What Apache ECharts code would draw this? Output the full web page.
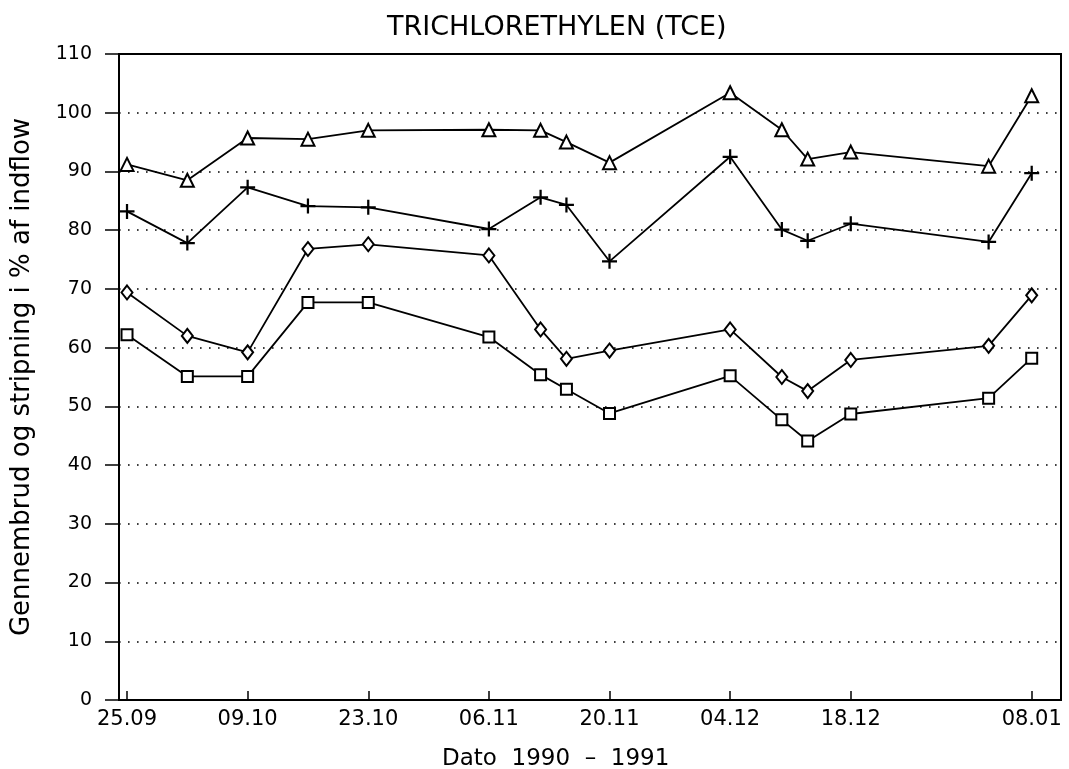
<!DOCTYPE html>
<html>
<head>
<meta charset="utf-8">
<title>TRICHLORETHYLEN (TCE)</title>
<script src="https://cdn.jsdelivr.net/npm/echarts@6/dist/echarts.min.js"></script>
<style>
  html, body { margin: 0; padding: 0; background: #fff; }
  #chart { width: 1069px; height: 769px; }
</style>
</head>
<body>
<div id="chart"></div>
<script>
// Sampling days, counted from 25.09.1990
const days = [0, 7, 14, 21, 28, 42, 48, 51, 56, 70, 76, 79, 84, 100, 105];

// Date ticks on the x axis
const tickDays = [0, 14, 28, 42, 56, 70, 84, 105];
const tickLabels = ['25.09', '09.10', '23.10', '06.11', '20.11', '04.12', '18.12', '08.01'];

// Breakthrough and stripping, % of inflow
const triangleSeries = [91.2, 88.5, 95.7, 95.5, 97.0, 97.1, 97.0, 95.0, 91.5, 103.4, 97.1, 92.1, 93.3, 90.9, 102.9];
const plusSeries     = [83.2, 77.8, 87.3, 84.1, 83.9, 80.2, 85.6, 84.3, 74.7, 92.5, 80.1, 78.2, 81.1, 78.0, 89.7];
const diamondSeries  = [69.4, 62.0, 59.2, 76.8, 77.6, 75.7, 63.1, 58.1, 59.5, 63.1, 55.0, 52.6, 57.9, 60.3, 68.9];
const squareSeries   = [62.2, 55.1, 55.1, 67.7, 67.7, 61.8, 55.4, 52.9, 48.8, 55.2, 47.7, 44.1, 48.7, 51.4, 58.2];

const FONT = 'DejaVu Sans';
const PLUS = 'path://M4.25,0H5.75V4.25H10V5.75H5.75V10H4.25V5.75H0V4.25H4.25Z';

function pairs(values) {
  return days.map((d, i) => [d, values[i]]);
}

function lineSeries(name, values, symbol, size, filled) {
  return {
    name: name,
    type: 'line',
    data: pairs(values),
    symbol: symbol,
    symbolSize: size,
    showSymbol: true,
    animation: false,
    lineStyle: { color: '#000', width: 1.8 },
    itemStyle: filled
      ? { color: '#000', borderWidth: 0 }
      : { color: '#fff', borderColor: '#000', borderWidth: 2 },
    emphasis: { disabled: true }
  };
}

const chart = echarts.init(document.getElementById('chart'), null, { renderer: 'canvas' });

chart.setOption({
  backgroundColor: '#fff',
  animation: false,
  title: {
    text: 'TRICHLORETHYLEN (TCE)',
    left: 382,
    top: 9,
    textStyle: { fontFamily: FONT, fontSize: 27, fontWeight: 'normal', color: '#000' }
  },
  grid: {
    left: 119, right: 8, top: 54, bottom: 69,
    outerBoundsMode: 'none',
    containLabel: false,
    show: true, borderColor: '#000', borderWidth: 2, backgroundColor: 'transparent'
  },
  xAxis: {
    type: 'value',
    min: -0.93,
    max: 108.4,
    axisLine: { show: true, onZero: false, lineStyle: { color: '#000', width: 2 } },
    axisTick: {
      show: true, inside: true, length: 9,
      customValues: tickDays,
      lineStyle: { color: '#000', width: 1.5 }
    },
    axisLabel: {
      customValues: tickDays,
      formatter: v => tickLabels[tickDays.indexOf(v)] || '',
      margin: 9,
      fontFamily: FONT, fontSize: 21, color: '#000'
    },
    splitLine: { show: false }
  },
  yAxis: {
    type: 'value',
    min: 0,
    max: 110,
    interval: 10,
    name: 'Gennembrud og stripning i % af indflow',
    nameLocation: 'middle',
    nameGap: 84,
    nameTextStyle: { fontFamily: FONT, fontSize: 26, color: '#000' },
    axisLine: { show: true, onZero: false, lineStyle: { color: '#000', width: 2 } },
    axisTick: { show: true, length: 14, lineStyle: { color: '#000', width: 1.5 } },
    axisLabel: { margin: 27, fontFamily: FONT, fontSize: 19, color: '#000' },
    splitLine: {
      show: true,
      lineStyle: { color: '#000', width: 1.6, type: [1.6, 7.4] }
    }
  },
  graphic: [{
    type: 'text',
    left: 442,
    top: 748,
    style: { text: 'Dato  1990  –  1991', fontFamily: FONT, fontSize: 23, fill: '#000' }
  }],
  series: [
    lineSeries('triangle', triangleSeries, 'triangle', 13, false),
    lineSeries('plus', plusSeries, PLUS, 15, true),
    lineSeries('diamond', diamondSeries, 'diamond', [11, 14], false),
    lineSeries('square', squareSeries, 'rect', 11, false)
  ]
});
</script>
</body>
</html>
